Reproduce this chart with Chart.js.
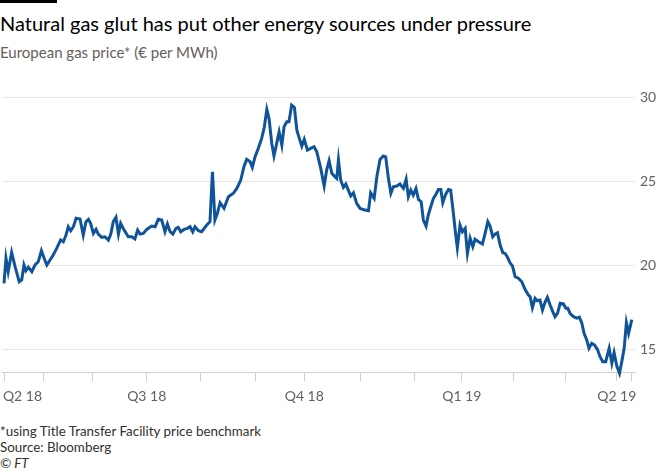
<!DOCTYPE html>
<html>
<head>
<meta charset="utf-8">
<script src="https://cdn.jsdelivr.net/npm/chart.js@4.4.1/dist/chart.umd.min.js"></script>
<style>
  body { margin: 0; background: #fff; width: 660px; height: 471px; position: relative; overflow: hidden; font-family: Lato, sans-serif; }
  #bar { position: absolute; left: 0; top: 0; width: 57px; height: 3px; background: #000; }
  #title { position: absolute; left: 0; top: 11px; font-size: 20px; line-height: 24px; color: #000; white-space: nowrap; }
  #sub { position: absolute; left: 0; top: 43px; font-size: 15px; line-height: 18px; color: #66605c; white-space: nowrap; }
  #chart { position: absolute; left: -3px; top: 84px; }
  .note { position: absolute; left: 0; font-size: 13.4px; line-height: 16px; color: #33302e; white-space: nowrap; }
</style>
</head>
<body>
<div id="bar"></div>
<div id="title">Natural gas glut has put other energy sources under pressure</div>
<div id="sub">European gas price* (€ per MWh)</div>
<canvas id="chart" width="663" height="324"></canvas>
<div class="note" style="top:423px">*using Title Transfer Facility price benchmark</div>
<div class="note" style="top:439px">Source: Bloomberg</div>
<div class="note" style="top:455px;font-style:italic">© FT</div>
<script>
// trading days since the start of the series (early Apr 2018)
const days = [
  0, 0.8, 1.7, 3.1, 4.5, 6.2, 7.2, 8.1, 8.9, 9.9, 11.3, 12.6, 13.9, 15.2, 16.3, 17.4, 18.7, 20.0, 21.4,
  23.0, 24.1, 25.2, 26.1, 27.1, 28.2, 29.3, 30.9, 32.2, 33.3, 34.3, 35.2, 36.3, 37.4, 38.3, 39.7, 41.0,
  42.4, 43.4, 44.4, 45.5, 46.5, 47.4, 48.8, 50.5, 51.9, 53.2, 54.3, 55.3, 56.6, 58.0, 60.0, 61.4, 62.7,
  64.1, 65.4, 66.4, 67.5, 68.6, 69.9, 70.8, 71.8, 73.2, 74.5, 75.6, 76.7, 77.6, 79.0, 80.3, 82.4, 83.7,
  84.7, 85.7, 86.7, 87.8, 89.4, 91.2, 93.2, 94.6, 96.2, 97.5, 98.6, 100.0, 100.9, 102.0, 103.3, 104.7,
  105.8, 106.8, 107.7, 108.8, 109.7, 110.8, 111.8, 112.9, 113.8, 114.9, 115.8, 116.9, 118.0, 119.0,
  120.0, 121.0, 122.0, 123.3, 124.6, 126.0, 127.1, 128.7, 130.1, 131.1, 132.1, 133.2, 134.5, 135.2,
  135.9, 136.8, 137.9, 138.9, 139.9, 140.9, 142.0, 143.3, 144.7, 146.7, 148.1, 149.0, 150.4, 151.5,
  152.8, 154.1, 155.1, 156.2, 157.2, 158.2, 159.6, 160.9, 162.3, 163.4, 164.3, 165.3, 166.3, 167.4,
  168.4, 169.5, 170.4, 171.5, 172.4, 173.4, 174.5, 175.6, 176.5, 177.5, 178.3, 179.5, 180.6, 181.5,
  182.6, 183.4, 184.2, 185.3, 186.3, 187.4, 188.3, 189.4, 190.5, 191.4, 192.8, 194.4, 195.5, 196.6,
  197.5, 198.6, 199.5, 200.5, 201.6, 202.7, 203.6, 204.5, 205.6, 206.6, 207.7, 209.0, 210.4, 211.7,
  213.1, 213.8, 214.7, 215.8, 216.7, 217.8, 218.8, 219.9, 220.8, 221.9, 223.0, 223.9, 224.9, 226.0,
  227.3, 228.3, 229.1, 230.0, 231.4, 232.7, 233.8, 234.8, 235.7, 236.8, 237.7, 238.8, 239.9, 241.1,
  242.2, 243.3, 244.5, 245.9, 247.0, 247.9, 249.0, 250.1, 251.2, 252.0, 252.9, 253.8, 255.1
];
// € per MWh
const price = [
  18.93, 20.42, 19.62, 20.77, 19.92, 19.02, 19.13, 20.02, 19.68, 19.88, 19.62, 20.02, 20.21, 20.87, 20.42, 20.02, 20.32, 20.61, 21.01,
  21.51, 21.40, 21.80, 22.30, 22.06, 22.30, 22.80, 22.76, 21.80, 22.60, 22.74, 22.50, 21.90, 22.14, 21.86, 21.67, 21.70,
  21.50, 21.86, 22.60, 22.86, 21.86, 22.50, 22.10, 21.70, 21.70, 21.57, 22.10, 21.86, 21.90, 22.14, 22.34, 22.30, 22.74,
  22.70, 22.00, 22.46, 22.00, 21.86, 22.20, 22.26, 22.00, 22.14, 22.20, 22.30, 22.00, 22.30, 22.06, 22.00, 22.40, 22.60,
  25.57, 22.70, 23.10, 23.73, 23.39, 24.08, 24.29, 24.58, 25.08, 25.87, 26.31, 26.17, 25.83, 26.46, 26.96, 27.56,
  28.25, 29.29, 28.75, 27.26, 26.51, 27.26, 27.95, 27.16, 28.25, 28.55, 28.55, 29.54, 29.40, 28.05,
  27.56, 27.10, 27.50, 26.86, 26.96, 27.06, 26.76, 25.77, 24.72, 25.67, 26.23, 25.48, 25.27, 25.18,
  26.27, 25.08, 24.64, 24.84, 24.48, 24.13, 24.32, 23.69, 23.39, 23.29, 23.25, 24.32, 23.99, 25.27,
  26.31, 26.51, 26.46, 25.18, 24.29, 24.68, 24.72, 24.84, 24.58, 25.12, 24.08, 24.48, 24.18, 24.58,
  23.93, 23.79, 22.70, 22.34, 23.00, 23.49, 23.99, 24.24, 24.52, 24.52, 23.73, 24.24, 24.52, 24.48,
  23.10, 22.00, 21.05, 22.40, 22.00, 22.20, 20.71, 21.61, 21.11, 21.55, 21.40, 21.27, 21.90, 22.60,
  22.34, 21.70, 21.86, 21.94, 21.21, 20.75, 20.71, 20.51, 20.15, 19.96, 19.32, 19.23, 19.02, 18.57,
  18.23, 18.13, 17.48, 18.04, 17.89, 17.93, 17.34, 17.83, 18.09, 17.64, 17.24, 16.94, 17.14, 17.74,
  17.70, 17.44, 17.44, 17.14, 16.94, 16.85, 16.91, 16.55, 15.95, 15.55, 15.06, 15.36, 15.26, 15.00,
  14.56, 14.26, 14.26, 15.06, 14.17, 14.80, 14.00, 13.57, 14.40, 15.06, 16.58, 15.95, 16.77
];

// month starts (trading-day index); quarter labels only
const tickDays   = [0, 7.5, 16, 36, 58, 80, 102, 122, 145, 167, 186, 207, 228, 249, 255];
const tickLabels = ['', 'Q2 18', '', '', 'Q3 18', '', '', 'Q4 18', '', '', 'Q1 19', '', '', 'Q2 19', ''];
const labelOnly  = [7.5];   // label carrier, no tick mark
const yTicks = [15, 20, 25, 30];

const points = days.map((d, i) => ({ x: d, y: price[i] }));

new Chart(document.getElementById('chart'), {
  type: 'line',
  data: {
    datasets: [{
      data: points,
      borderColor: '#0f5499',
      borderWidth: 3,
      pointRadius: 0,
      tension: 0,
      clip: false
    }]
  },
  options: {
    responsive: false,
    animation: false,
    devicePixelRatio: 1,
    layout: { padding: { left: 2, top: 9.3, right: 0, bottom: 0 } },
    plugins: { legend: { display: false }, tooltip: { enabled: false } },
    scales: {
      x: {
        type: 'linear',
        min: -0.81,
        max: 256.4,
        afterBuildTicks: axis => { axis.ticks = tickDays.map(v => ({ value: v })); },
        afterFit: axis => { axis.height = 35.7; },
        ticks: {
          autoSkip: false,
          maxRotation: 0,
          minRotation: 0,
          padding: 7,
          color: '#66605c',
          font: { family: 'Lato', size: 14 },
          callback: (v, i) => tickLabels[i]
        },
        grid: {
          drawOnChartArea: false,
          drawTicks: true,
          tickLength: 9,
          color: ctx => (ctx.tick && labelOnly.includes(ctx.tick.value)) ? 'rgba(0,0,0,0)' : '#d6cfc9'
        },
        border: { display: true, color: '#d6cfc9', width: 1 }
      },
      y: {
        position: 'right',
        min: 13.63,
        max: 30,
        afterBuildTicks: axis => { axis.ticks = yTicks.map(v => ({ value: v })); },
        afterFit: axis => { axis.width = 25; },
        ticks: {
          padding: 5,
          color: '#66605c',
          font: { family: 'Lato', size: 14 }
        },
        grid: { color: '#ebe6e1', drawTicks: false, tickLength: 0 },
        border: { display: false }
      }
    }
  }
});
</script>
</body>
</html>
